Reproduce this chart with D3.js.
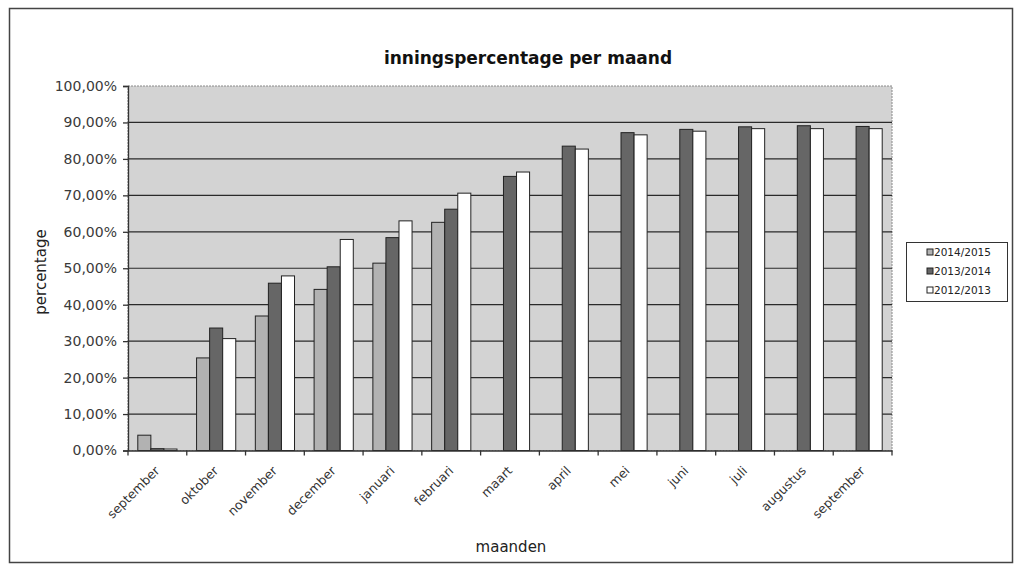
<!DOCTYPE html>
<html>
<head>
<meta charset="utf-8">
<script src="https://cdn.jsdelivr.net/npm/d3@7"></script>
<style>
  html, body { margin: 0; padding: 0; background: #fff; }
  svg { display: block; font-family: "DejaVu Sans", Verdana, sans-serif; }
</style>
</head>
<body>
<svg id="chart" width="1016" height="569"></svg>
<script>
// Maanden (x-as)
const months = ["september", "oktober", "november", "december", "januari", "februari",
                "maart", "april", "mei", "juni", "juli", "augustus", "september"];
// Seizoenen (legenda)
const seasons = ["2014/2015", "2013/2014", "2012/2013"];
// Inningspercentage per maand, in procenten
const s2014_2015 = [4.2, 25.4, 36.9, 44.2, 51.4, 62.6, null, null, null, null, null, null, null];
const s2013_2014 = [0.5, 33.6, 45.9, 50.4, 58.4, 66.2, 75.2, 83.5, 87.2, 88.1, 88.8, 89.1, 88.9];
const s2012_2013 = [0.4, 30.7, 47.9, 57.9, 63.0, 70.6, 76.4, 82.7, 86.6, 87.6, 88.3, 88.3, 88.3];
// Y-as ticks
const yTicks = [0, 10, 20, 30, 40, 50, 60, 70, 80, 90, 100];

const seriesValues = [s2014_2015, s2013_2014, s2012_2013];
const seriesFill = ["#b2b2b2", "#666666", "#ffffff"];

const svg = d3.select("#chart");

// outer frame
svg.append("rect")
  .attr("x", 9.5).attr("y", 8.5).attr("width", 1003).attr("height", 554)
  .attr("fill", "#fff").attr("stroke", "#444").attr("stroke-width", 1.5);

const plot = { left: 128, right: 892, top: 86, bottom: 450.5 };

const x = d3.scaleBand().domain(d3.range(months.length))
  .range([plot.left, plot.right]).paddingInner(0).paddingOuter(0);
const bw = x.bandwidth();
const barW = bw / 4.5;
const xs = d3.scaleBand().domain(d3.range(seasons.length))
  .range([barW * 0.75, bw - barW * 0.75]).padding(0);

const y = d3.scaleLinear().domain([0, 100]).range([plot.bottom, plot.top]);

// plot area background
svg.append("rect")
  .attr("x", plot.left).attr("y", plot.top)
  .attr("width", plot.right - plot.left).attr("height", plot.bottom - plot.top)
  .attr("fill", "#d3d3d3").attr("stroke", "#8a8a8a").attr("stroke-width", 1)
  .attr("stroke-dasharray", "2,1");

// horizontal gridlines
svg.append("g").selectAll("line")
  .data(yTicks.filter(t => t > 0 && t < 100))
  .join("line")
  .attr("x1", plot.left).attr("x2", plot.right)
  .attr("y1", d => y(d)).attr("y2", d => y(d))
  .attr("stroke", "#2a2a2a").attr("stroke-width", 1.2);

// bars
const groups = svg.append("g").selectAll("g")
  .data(seriesValues)
  .join("g")
  .attr("fill", (d, i) => seriesFill[i]);

groups.each(function (vals, si) {
  d3.select(this).selectAll("rect")
    .data(vals.map((v, mi) => ({ v, mi })).filter(d => d.v !== null))
    .join("rect")
    .attr("x", d => x(d.mi) + xs(si))
    .attr("y", d => y(d.v))
    .attr("width", xs.bandwidth())
    .attr("height", d => y(0) - y(d.v))
    .attr("stroke", "#222").attr("stroke-width", 1);
});

// y axis
const yAxis = svg.append("g")
  .attr("transform", `translate(${plot.left},0)`)
  .call(d3.axisLeft(y).tickValues(yTicks).tickSize(5).tickPadding(6)
    .tickFormat(d => d3.format(".2f")(d).replace(".", ",") + "%"));
yAxis.select(".domain").attr("stroke", "#333").attr("stroke-width", 1.3);
yAxis.selectAll(".tick line").attr("stroke", "#333").attr("stroke-width", 1.3);
yAxis.selectAll(".tick text")
  .attr("font-size", 14).attr("fill", "#3a3a3a")
  .attr("font-family", "'DejaVu Sans', Verdana, sans-serif");

// x axis
const xAxis = svg.append("g")
  .attr("transform", `translate(0,${plot.bottom})`)
  .call(d3.axisBottom(x).tickSize(0).tickFormat(i => months[i]));
xAxis.select(".domain").attr("stroke", "#333").attr("stroke-width", 1.3);
xAxis.selectAll(".tick text")
  .attr("font-size", 12.5).attr("fill", "#333")
  .attr("font-family", "'DejaVu Sans', Verdana, sans-serif")
  .attr("text-anchor", "end")
  .attr("y", 0).attr("dy", 0)
  .attr("transform", "translate(3,21) rotate(-45)");
// category boundary tick marks
svg.append("g").selectAll("line")
  .data(d3.range(months.length + 1))
  .join("line")
  .attr("x1", i => plot.left + i * bw).attr("x2", i => plot.left + i * bw)
  .attr("y1", plot.bottom).attr("y2", plot.bottom + 5)
  .attr("stroke", "#333").attr("stroke-width", 1.3);

// title
svg.append("text")
  .attr("x", 528).attr("y", 64)
  .attr("text-anchor", "middle")
  .attr("font-size", 17).attr("font-weight", "bold").attr("fill", "#111")
  .text("inningspercentage per maand");

// axis titles
svg.append("text")
  .attr("transform", "translate(46,272) rotate(-90)")
  .attr("text-anchor", "middle")
  .attr("font-size", 15).attr("fill", "#222")
  .text("percentage");

svg.append("text")
  .attr("x", 511).attr("y", 552)
  .attr("text-anchor", "middle")
  .attr("font-size", 15).attr("fill", "#222")
  .text("maanden");

// legend
const legend = svg.append("g").attr("transform", "translate(906,242)");
legend.append("rect")
  .attr("x", 0.5).attr("y", 0.5).attr("width", 101).attr("height", 59)
  .attr("fill", "#fff").attr("stroke", "#333").attr("stroke-width", 1);
const items = legend.selectAll("g.item")
  .data(seasons)
  .join("g")
  .attr("class", "item")
  .attr("transform", (d, i) => `translate(21,${11 + i * 19})`);
items.append("rect")
  .attr("x", 0).attr("y", -4).attr("width", 6).attr("height", 6)
  .attr("fill", (d, i) => seriesFill[i]).attr("stroke", "#222").attr("stroke-width", 1);
items.append("text")
  .attr("x", 7).attr("y", 3)
  .attr("font-size", 10.5).attr("fill", "#222")
  .text(d => d);
</script>
</body>
</html>
